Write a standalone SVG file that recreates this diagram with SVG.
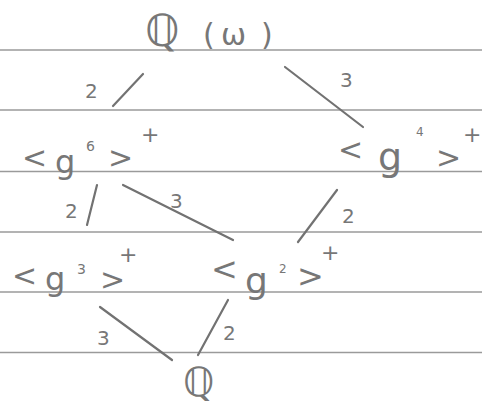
<svg xmlns="http://www.w3.org/2000/svg" width="482" height="405" viewBox="0 0 482 405">
<style>
.rule{stroke:#9a9a9a;stroke-width:1.5;}
.e{stroke:#727272;stroke-width:2.2;stroke-linecap:round;fill:none;}
text{font-family:"DejaVu Sans","Liberation Sans",sans-serif;fill:#777777;}
.lab{font-size:20px;}
</style>
<rect width="482" height="405" fill="#ffffff"/>
<g id="paper">
<line class="rule" x1="0" y1="50" x2="482" y2="50"/>
<line class="rule" x1="0" y1="110" x2="482" y2="110"/>
<line class="rule" x1="0" y1="171.5" x2="482" y2="171.5"/>
<line class="rule" x1="0" y1="232" x2="482" y2="232"/>
<line class="rule" x1="0" y1="292" x2="482" y2="292"/>
<line class="rule" x1="0" y1="352.5" x2="482" y2="352.5"/>
</g>
<g id="connectors">
<line class="e" x1="113" y1="106" x2="143" y2="74"/>
<line class="e" x1="285" y1="67" x2="363" y2="127"/>
<line class="e" x1="87" y1="225" x2="97" y2="185"/>
<line class="e" x1="123" y1="185" x2="233" y2="240"/>
<line class="e" x1="337" y1="190" x2="298" y2="242"/>
<line class="e" x1="100" y1="307" x2="172" y2="360"/>
<line class="e" x1="228" y1="300" x2="198" y2="355"/>
<text class="lab" x="85" y="98" font-size="24">2</text>
<text class="lab" x="340" y="87" font-size="26">3</text>
<text class="lab" x="65" y="218" font-size="18">2</text>
<text class="lab" x="170" y="208" font-size="26">3</text>
<text class="lab" x="342" y="223" font-size="19">2</text>
<text class="lab" x="97" y="345" font-size="24">3</text>
<text class="lab" x="223" y="340" font-size="18">2</text>
</g>
<g id="Qomega">
<text><tspan x="145" y="46" font-size="44">ℚ</tspan><tspan x="203" y="45" font-size="30">(</tspan><tspan x="221" y="45" font-size="30">ω</tspan><tspan x="261" y="45" font-size="30">)</tspan></text>
</g>
<g id="g6">
<text><tspan x="22" y="168" font-size="30">&lt;</tspan><tspan x="55" y="173" font-size="32">g</tspan><tspan x="86" y="151" font-size="14">6</tspan><tspan x="108" y="168" font-size="30">&gt;</tspan><tspan x="141" y="142" font-size="22">+</tspan></text>
</g>
<g id="g4">
<text><tspan x="338" y="160" font-size="30">&lt;</tspan><tspan x="378" y="170" font-size="38">g</tspan><tspan x="416" y="136" font-size="12">4</tspan><tspan x="436" y="168" font-size="30">&gt;</tspan><tspan x="463" y="142" font-size="22">+</tspan></text>
</g>
<g id="g3">
<text><tspan x="12" y="286" font-size="30">&lt;</tspan><tspan x="45" y="290" font-size="32">g</tspan><tspan x="77" y="274" font-size="14">3</tspan><tspan x="100" y="290" font-size="30">&gt;</tspan><tspan x="119" y="262" font-size="22">+</tspan></text>
</g>
<g id="g2">
<text><tspan x="211" y="280" font-size="32">&lt;</tspan><tspan x="245" y="293" font-size="36">g</tspan><tspan x="279" y="273" font-size="12">2</tspan><tspan x="297" y="287" font-size="32">&gt;</tspan><tspan x="321" y="260" font-size="22">+</tspan></text>
</g>
<g id="Q">
<text x="183" y="396" font-size="40">ℚ</text>
</g>
</svg>
